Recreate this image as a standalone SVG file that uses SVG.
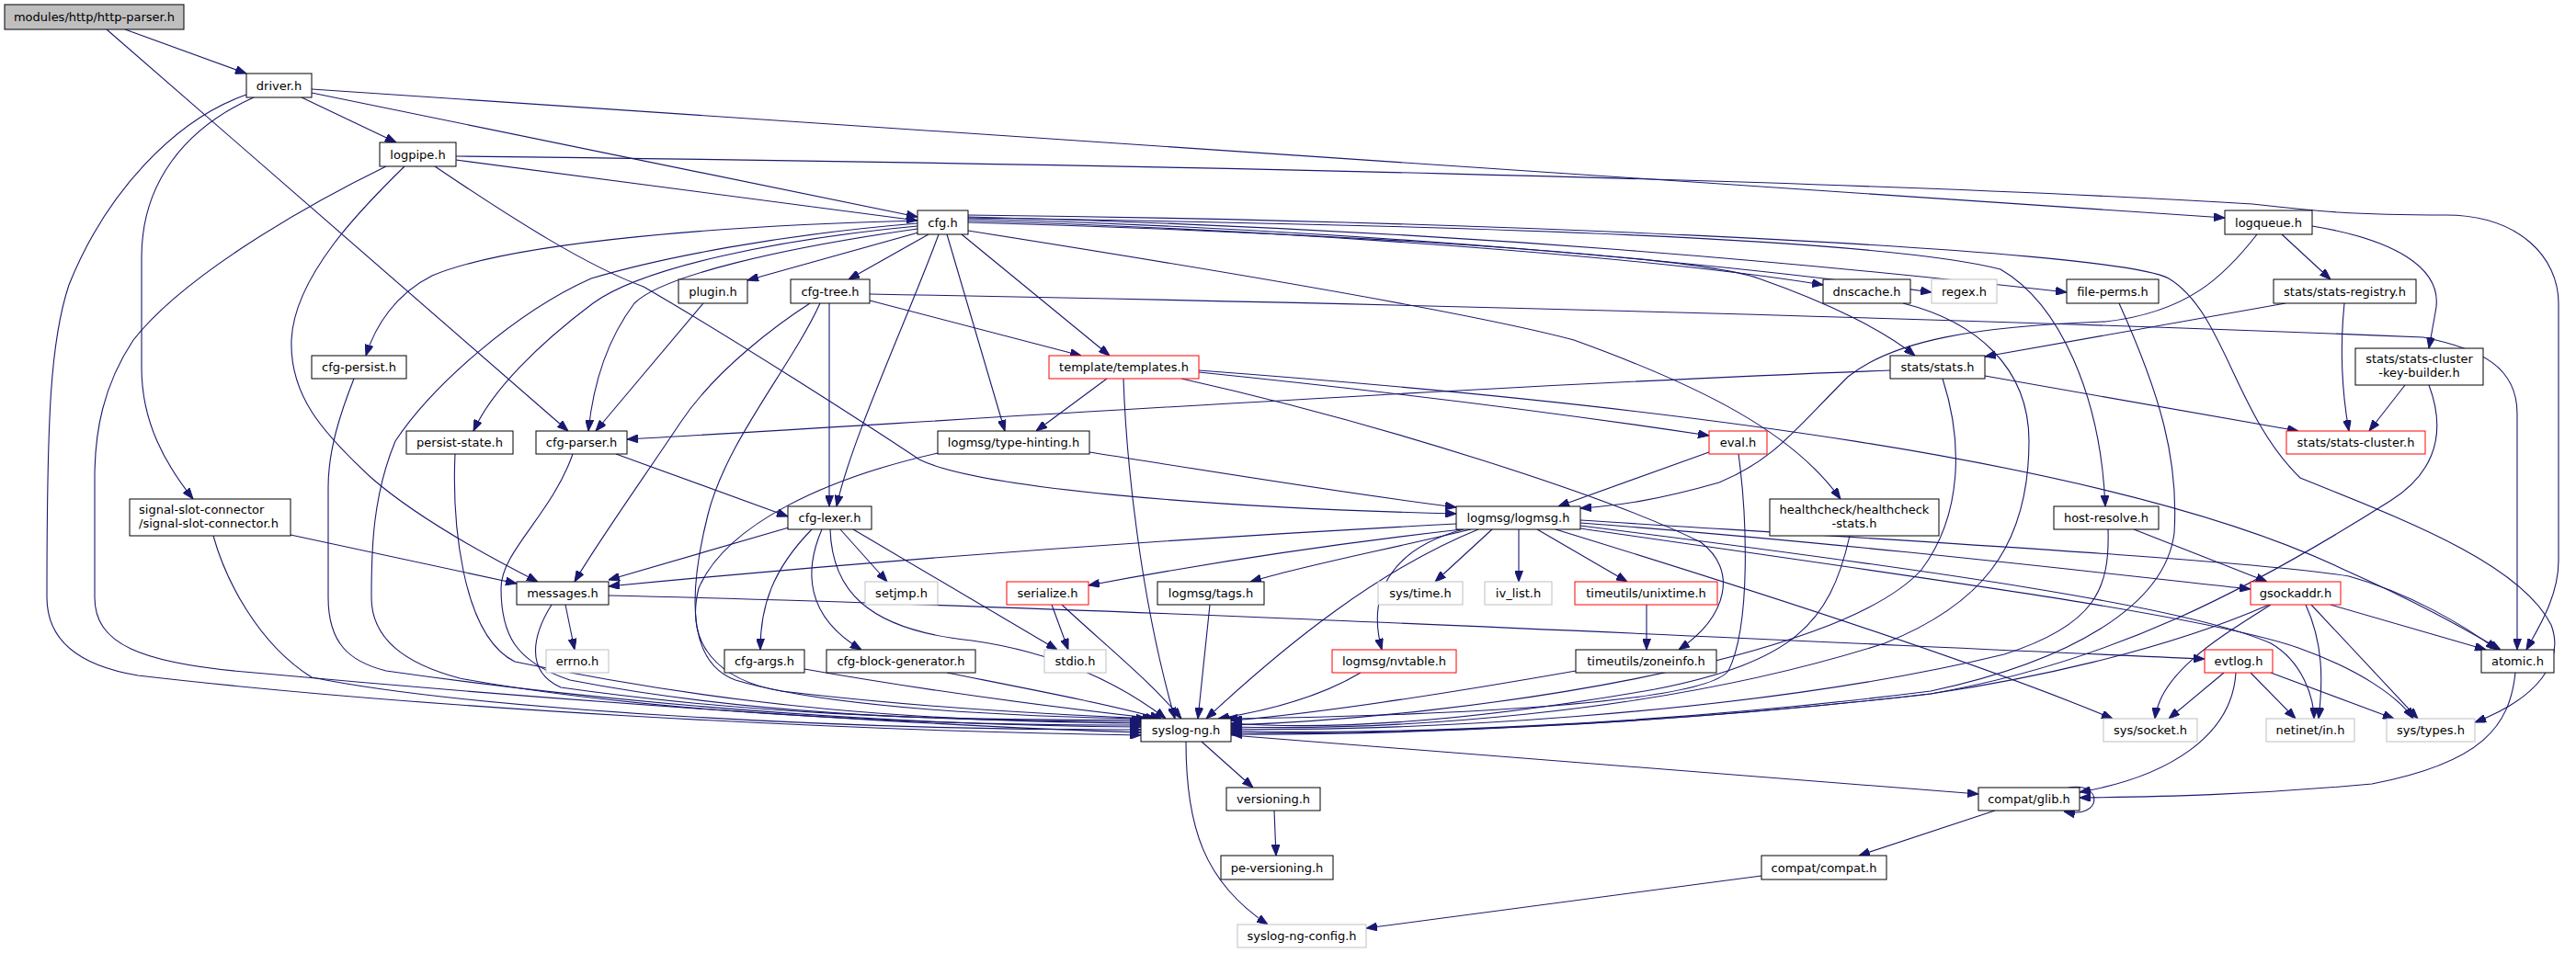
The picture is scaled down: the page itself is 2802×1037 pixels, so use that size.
<svg xmlns="http://www.w3.org/2000/svg" width="2802" height="1037" viewBox="0 0 2802 1037">
<defs>
<marker id="ah" markerWidth="12" markerHeight="9" refX="12" refY="4.5" orient="auto" markerUnits="userSpaceOnUse"><path d="M0,0 L12,4.5 L0,9 Z" fill="#191970" stroke="#191970" stroke-width="1"/></marker>
</defs>
<style>
.n rect{fill:#fff;stroke:#000;stroke-width:1}
.n.r rect{stroke:#ff0000}
.n.g rect{stroke:#bfbfbf}
.n.root rect{fill:#bfbfbf}
text{font-family:"DejaVu Sans","Liberation Sans",sans-serif;font-size:13px;fill:#000;text-anchor:middle}
text.l{text-anchor:start}
.e path{fill:none;stroke:#191970;stroke-width:1.1;marker-end:url(#ah)}
</style>
<rect width="2802" height="1037" fill="#fff"/>
<g id="edges" class="e">
<path d="M136,32 L268,80"/>
<path d="M116,32 L618,469"/>
<path d="M328,106 L431,155"/>
<path d="M339,101 L998,236"/>
<path d="M339,97 L2420,237"/>
<path d="M268,103 C190,130 115,210 75,310 C55,370 51,450 51,650 C51,700 90,725 150,735 C450,770 900,795 1241,800"/>
<path d="M276,106 C200,140 154,200 154,280 L154,400 C154,460 180,505 210,543"/>
<path d="M496,174 L998,240"/>
<path d="M496,170 C1200,178 2000,195 2450,222 C2520,230 2560,234 2660,234 C2740,234 2783,280 2783,330 L2783,610 C2783,650 2760,685 2748,707"/>
<path d="M420,181 C330,225 200,300 145,370 C112,420 103,470 103,520 L103,650 C103,700 150,722 277,732 C600,762 1000,790 1241,797"/>
<path d="M440,181 C395,225 320,300 317,370 C315,430 350,470 404,520 C450,560 520,600 585,633"/>
<path d="M473,181 C560,240 640,290 700,312 C800,370 940,460 1000,500 C1060,530 1300,552 1584,559"/>
<path d="M998,243 C850,255 720,280 643,303 C560,340 470,420 430,480 C405,540 404,600 404,650 C404,695 440,722 500,738 C700,775 1000,790 1241,789"/>
<path d="M998,240 C800,245 560,262 470,300 C430,320 408,355 398,387"/>
<path d="M998,246 C850,260 700,290 645,330 C585,375 535,425 515,469"/>
<path d="M998,249 C850,270 720,300 690,330 C660,370 645,420 640,469"/>
<path d="M999,253 L813,305"/>
<path d="M1010,255 L923,304"/>
<path d="M1021,255 C990,340 925,480 910,551"/>
<path d="M1030,255 L1093,469"/>
<path d="M1046,255 L1207,387"/>
<path d="M1053,251 C1300,290 1600,340 1712,370 C1850,420 1950,470 2002,543"/>
<path d="M1053,240 C1400,250 1800,280 1983,310"/>
<path d="M1053,238 C1500,250 1900,290 2101,318"/>
<path d="M1053,236 C1600,250 2000,290 2248,318"/>
<path d="M1053,242 C1500,255 1850,280 1913,303 C1990,330 2050,360 2083,387"/>
<path d="M1053,237 C1600,245 2050,260 2176,293 C2240,330 2285,430 2290,551"/>
<path d="M1053,234 C1600,240 2300,270 2359,303 C2420,340 2430,450 2502,520 C2600,560 2740,610 2775,680 C2790,720 2760,760 2692,786"/>
<path d="M2455,255 C2420,300 2380,340 2290,350 C2150,355 2060,370 2010,410 C1950,470 1930,500 1870,525 C1800,545 1760,550 1719,553"/>
<path d="M2482,255 L2535,304"/>
<path d="M2515,246 C2600,260 2660,290 2649,340 L2642,379"/>
<path d="M765,330 L648,469"/>
<path d="M946,327 L1176,387"/>
<path d="M902,330 L902,551"/>
<path d="M881,330 C850,350 780,400 740,460 C700,520 650,590 625,633"/>
<path d="M892,330 C860,400 790,480 770,560 C750,640 745,720 800,740 C900,770 1100,780 1248,782"/>
<path d="M946,320 C1400,328 2100,345 2636,367 C2700,380 2738,400 2738,450 L2738,707"/>
<path d="M385,412 C370,450 357,490 357,530 L357,650 C357,700 380,720 420,730 C700,770 1000,790 1241,791"/>
<path d="M495,494 C492,560 500,690 560,720 C800,770 1000,785 1241,787"/>
<path d="M670,494 L857,562"/>
<path d="M623,494 C600,560 545,600 545,640 C545,690 560,720 620,740 C800,775 1000,785 1241,785"/>
<path d="M1204,412 L1127,469"/>
<path d="M1304,405 C1500,425 1700,450 1859,474"/>
<path d="M1222,412 C1225,500 1240,650 1278,782"/>
<path d="M1285,412 C1500,460 1750,540 1850,590 C1890,620 1880,670 1826,707"/>
<path d="M1304,403 C1800,440 2300,500 2550,620 C2640,660 2690,690 2720,707"/>
<path d="M1185,492 C1300,510 1450,535 1584,552"/>
<path d="M1020,493 C900,520 790,570 760,640 C745,700 780,740 850,752 C1000,770 1150,778 1255,782"/>
<path d="M1859,492 L1695,551"/>
<path d="M1891,494 C1900,560 1905,680 1880,730 C1850,770 1500,780 1334,782"/>
<path d="M2070,330 C2150,350 2207,400 2207,480 C2207,600 2150,660 2050,700 C1800,780 1500,795 1339,791"/>
<path d="M2305,330 C2350,430 2370,500 2365,580 C2355,660 2250,720 2100,752 C1800,790 1500,800 1339,795"/>
<path d="M2486,330 L2159,388"/>
<path d="M2550,330 C2545,380 2548,430 2555,469"/>
<path d="M2616,419 L2577,469"/>
<path d="M2642,419 C2665,480 2640,520 2600,545 C2450,640 2300,720 2100,755 C1800,790 1500,800 1339,799"/>
<path d="M2056,403 C1600,420 1000,460 682,478"/>
<path d="M2159,409 L2500,469"/>
<path d="M2113,412 C2135,480 2135,560 2090,620 C2000,720 1600,780 1339,789"/>
<path d="M316,582 L562,635"/>
<path d="M232,583 C245,630 280,700 339,737 C500,770 900,795 1241,794"/>
<path d="M615,658 L625,707"/>
<path d="M600,658 C580,690 570,730 610,748 C800,775 1000,785 1243,783"/>
<path d="M662,648 C1200,660 2000,700 2398,717"/>
<path d="M858,574 L662,631"/>
<path d="M914,576 L965,633"/>
<path d="M928,576 L1150,707"/>
<path d="M883,576 C840,620 827,660 827,707"/>
<path d="M894,576 C875,620 875,670 937,707"/>
<path d="M903,576 C905,640 940,685 1057,697 C1150,710 1220,745 1268,782"/>
<path d="M1584,570 C1200,590 900,615 662,638"/>
<path d="M1590,576 C1450,592 1300,615 1184,637"/>
<path d="M1600,576 C1500,600 1420,615 1360,633"/>
<path d="M1623,576 L1561,633"/>
<path d="M1652,576 L1652,633"/>
<path d="M1672,576 L1770,633"/>
<path d="M1592,576 C1520,595 1485,640 1503,707"/>
<path d="M1608,576 C1500,620 1400,700 1312,782"/>
<path d="M1719,569 C2000,590 2300,625 2448,641"/>
<path d="M1719,566 C2100,590 2450,610 2555,627 C2620,645 2680,680 2716,707"/>
<path d="M1692,576 C1900,640 2150,720 2298,782"/>
<path d="M1719,572 C2100,620 2380,660 2470,700 C2505,720 2517,760 2517,782"/>
<path d="M1719,575 C2100,630 2400,670 2500,705 C2570,730 2610,760 2625,782"/>
<path d="M2012,583 C1990,680 1950,720 1800,750 C1600,785 1450,795 1339,787"/>
<path d="M2321,576 L2466,633"/>
<path d="M2293,576 C2295,640 2280,680 2180,712 C1900,780 1500,797 1339,793"/>
<path d="M1144,658 L1162,707"/>
<path d="M1155,658 C1200,700 1250,740 1285,782"/>
<path d="M1316,658 L1303,782"/>
<path d="M1791,658 L1791,707"/>
<path d="M1480,732 C1450,750 1400,770 1325,782"/>
<path d="M1714,730 C1600,750 1450,775 1339,784"/>
<path d="M875,728 C1000,750 1150,770 1258,782"/>
<path d="M1030,732 C1120,750 1200,765 1263,782"/>
<path d="M2470,658 C2420,690 2350,730 2344,782"/>
<path d="M2508,658 C2527,700 2527,740 2522,782"/>
<path d="M2514,658 L2630,782"/>
<path d="M2535,658 L2704,707"/>
<path d="M2468,658 C2350,710 2200,740 2100,755 C1800,790 1500,800 1339,797"/>
<path d="M2419,732 L2359,782"/>
<path d="M2448,732 L2497,782"/>
<path d="M2470,732 L2604,782"/>
<path d="M2736,732 C2730,790 2700,830 2580,853 C2450,865 2350,867 2262,868"/>
<path d="M2432,732 C2428,800 2360,845 2262,862"/>
<path d="M1307,807 L1363,857"/>
<path d="M1339,800 L2152,864"/>
<path d="M1290,807 C1290,900 1310,960 1379,1006"/>
<path d="M1386,882 L1388,931"/>
<path d="M2250,857 C2288,850 2288,892 2245,883"/>
<path d="M2170,882 L2022,931"/>
<path d="M1916,953 L1486,1010"/>
</g>
<g id="n-root" class="n root"><rect x="5" y="5" width="195" height="27"/><text x="102.5" y="23">modules/http/http-parser.h</text></g>
<g id="n-driver" class="n"><rect x="268" y="80" width="71" height="26"/><text x="303.5" y="97.5">driver.h</text></g>
<g id="n-logpipe" class="n"><rect x="413" y="155" width="83" height="26"/><text x="454.5" y="172.5">logpipe.h</text></g>
<g id="n-cfg" class="n"><rect x="998" y="229" width="55" height="26"/><text x="1025.5" y="246.5">cfg.h</text></g>
<g id="n-logqueue" class="n"><rect x="2420" y="229" width="95" height="26"/><text x="2467.5" y="246.5">logqueue.h</text></g>
<g id="n-plugin" class="n"><rect x="738" y="304" width="75" height="26"/><text x="775.5" y="321.5">plugin.h</text></g>
<g id="n-cfgtree" class="n"><rect x="860" y="304" width="86" height="26"/><text x="903" y="321.5">cfg-tree.h</text></g>
<g id="n-dnscache" class="n"><rect x="1983" y="304" width="95" height="26"/><text x="2030.5" y="321.5">dnscache.h</text></g>
<g id="n-regex" class="n g"><rect x="2101" y="304" width="71" height="26"/><text x="2136.5" y="321.5">regex.h</text></g>
<g id="n-fileperms" class="n"><rect x="2248" y="304" width="100" height="26"/><text x="2298" y="321.5">file-perms.h</text></g>
<g id="n-statsreg" class="n"><rect x="2473" y="304" width="155" height="26"/><text x="2550.5" y="321.5">stats/stats-registry.h</text></g>
<g id="n-cfgpersist" class="n"><rect x="339" y="387" width="103" height="25"/><text x="390.5" y="404">cfg-persist.h</text></g>
<g id="n-templates" class="n r"><rect x="1141" y="387" width="163" height="25"/><text x="1222.5" y="404">template/templates.h</text></g>
<g id="n-stats" class="n"><rect x="2056" y="387" width="103" height="25"/><text x="2107.5" y="404">stats/stats.h</text></g>
<g id="n-keybuilder" class="n"><rect x="2562" y="379" width="139" height="40"/><text x="2631.5" y="395">stats/stats-cluster</text><text x="2631.5" y="410">-key-builder.h</text></g>
<g id="n-persiststate" class="n"><rect x="442" y="469" width="116" height="25"/><text x="500" y="486">persist-state.h</text></g>
<g id="n-cfgparser" class="n"><rect x="583" y="469" width="99" height="25"/><text x="632.5" y="486">cfg-parser.h</text></g>
<g id="n-typehint" class="n"><rect x="1020" y="469" width="165" height="25"/><text x="1102.5" y="486">logmsg/type-hinting.h</text></g>
<g id="n-eval" class="n r"><rect x="1859" y="469" width="63" height="25"/><text x="1890.5" y="486">eval.h</text></g>
<g id="n-statscluster" class="n r"><rect x="2487" y="469" width="151" height="25"/><text x="2562.5" y="486">stats/stats-cluster.h</text></g>
<g id="n-signalslot" class="n"><rect x="141" y="543" width="175" height="40"/><text class="l" x="151" y="559">signal-slot-connector</text><text class="l" x="151" y="574">/signal-slot-connector.h</text></g>
<g id="n-cfglexer" class="n"><rect x="857" y="551" width="91" height="25"/><text x="902.5" y="568">cfg-lexer.h</text></g>
<g id="n-logmsg" class="n"><rect x="1584" y="551" width="135" height="25"/><text x="1651.5" y="568">logmsg/logmsg.h</text></g>
<g id="n-healthcheck" class="n"><rect x="1925" y="543" width="184" height="40"/><text x="2017" y="559">healthcheck/healthcheck</text><text x="2017" y="574">-stats.h</text></g>
<g id="n-hostresolve" class="n"><rect x="2234" y="551" width="114" height="25"/><text x="2291" y="568">host-resolve.h</text></g>
<g id="n-messages" class="n"><rect x="562" y="633" width="100" height="25"/><text x="612" y="650">messages.h</text></g>
<g id="n-setjmp" class="n g"><rect x="941" y="633" width="79" height="25"/><text x="980.5" y="650">setjmp.h</text></g>
<g id="n-serialize" class="n r"><rect x="1095" y="633" width="89" height="25"/><text x="1139.5" y="650">serialize.h</text></g>
<g id="n-tags" class="n"><rect x="1259" y="633" width="116" height="25"/><text x="1317" y="650">logmsg/tags.h</text></g>
<g id="n-systime" class="n g"><rect x="1499" y="633" width="92" height="25"/><text x="1545" y="650">sys/time.h</text></g>
<g id="n-ivlist" class="n g"><rect x="1615" y="633" width="73" height="25"/><text x="1651.5" y="650">iv_list.h</text></g>
<g id="n-unixtime" class="n r"><rect x="1713" y="633" width="155" height="25"/><text x="1790.5" y="650">timeutils/unixtime.h</text></g>
<g id="n-gsockaddr" class="n r"><rect x="2448" y="633" width="98" height="25"/><text x="2497" y="650">gsockaddr.h</text></g>
<g id="n-errno" class="n g"><rect x="594" y="707" width="68" height="25"/><text x="628" y="724">errno.h</text></g>
<g id="n-cfgargs" class="n"><rect x="788" y="707" width="87" height="25"/><text x="831.5" y="724">cfg-args.h</text></g>
<g id="n-cfgblock" class="n"><rect x="899" y="707" width="162" height="25"/><text x="980" y="724">cfg-block-generator.h</text></g>
<g id="n-stdio" class="n g"><rect x="1136" y="707" width="67" height="25"/><text x="1169.5" y="724">stdio.h</text></g>
<g id="n-nvtable" class="n r"><rect x="1449" y="707" width="135" height="25"/><text x="1516.5" y="724">logmsg/nvtable.h</text></g>
<g id="n-zoneinfo" class="n"><rect x="1714" y="707" width="153" height="25"/><text x="1790.5" y="724">timeutils/zoneinfo.h</text></g>
<g id="n-evtlog" class="n r"><rect x="2398" y="707" width="74" height="25"/><text x="2435" y="724">evtlog.h</text></g>
<g id="n-atomic" class="n"><rect x="2699" y="707" width="79" height="25"/><text x="2738.5" y="724">atomic.h</text></g>
<g id="n-syslogng" class="n"><rect x="1241" y="782" width="98" height="25"/><text x="1290" y="799">syslog-ng.h</text></g>
<g id="n-syssocket" class="n g"><rect x="2288" y="782" width="102" height="25"/><text x="2339" y="799">sys/socket.h</text></g>
<g id="n-netinet" class="n g"><rect x="2465" y="782" width="96" height="25"/><text x="2513" y="799">netinet/in.h</text></g>
<g id="n-systypes" class="n g"><rect x="2596" y="782" width="96" height="25"/><text x="2644" y="799">sys/types.h</text></g>
<g id="n-versioning" class="n"><rect x="1334" y="857" width="102" height="25"/><text x="1385" y="874">versioning.h</text></g>
<g id="n-glib" class="n"><rect x="2152" y="857" width="110" height="25"/><text x="2207" y="874">compat/glib.h</text></g>
<g id="n-peversioning" class="n"><rect x="1328" y="931" width="122" height="26"/><text x="1389" y="948.5">pe-versioning.h</text></g>
<g id="n-compat" class="n"><rect x="1916" y="931" width="136" height="26"/><text x="1984" y="948.5">compat/compat.h</text></g>
<g id="n-config" class="n g"><rect x="1346" y="1006" width="140" height="25"/><text x="1416" y="1023">syslog-ng-config.h</text></g>
</svg>
